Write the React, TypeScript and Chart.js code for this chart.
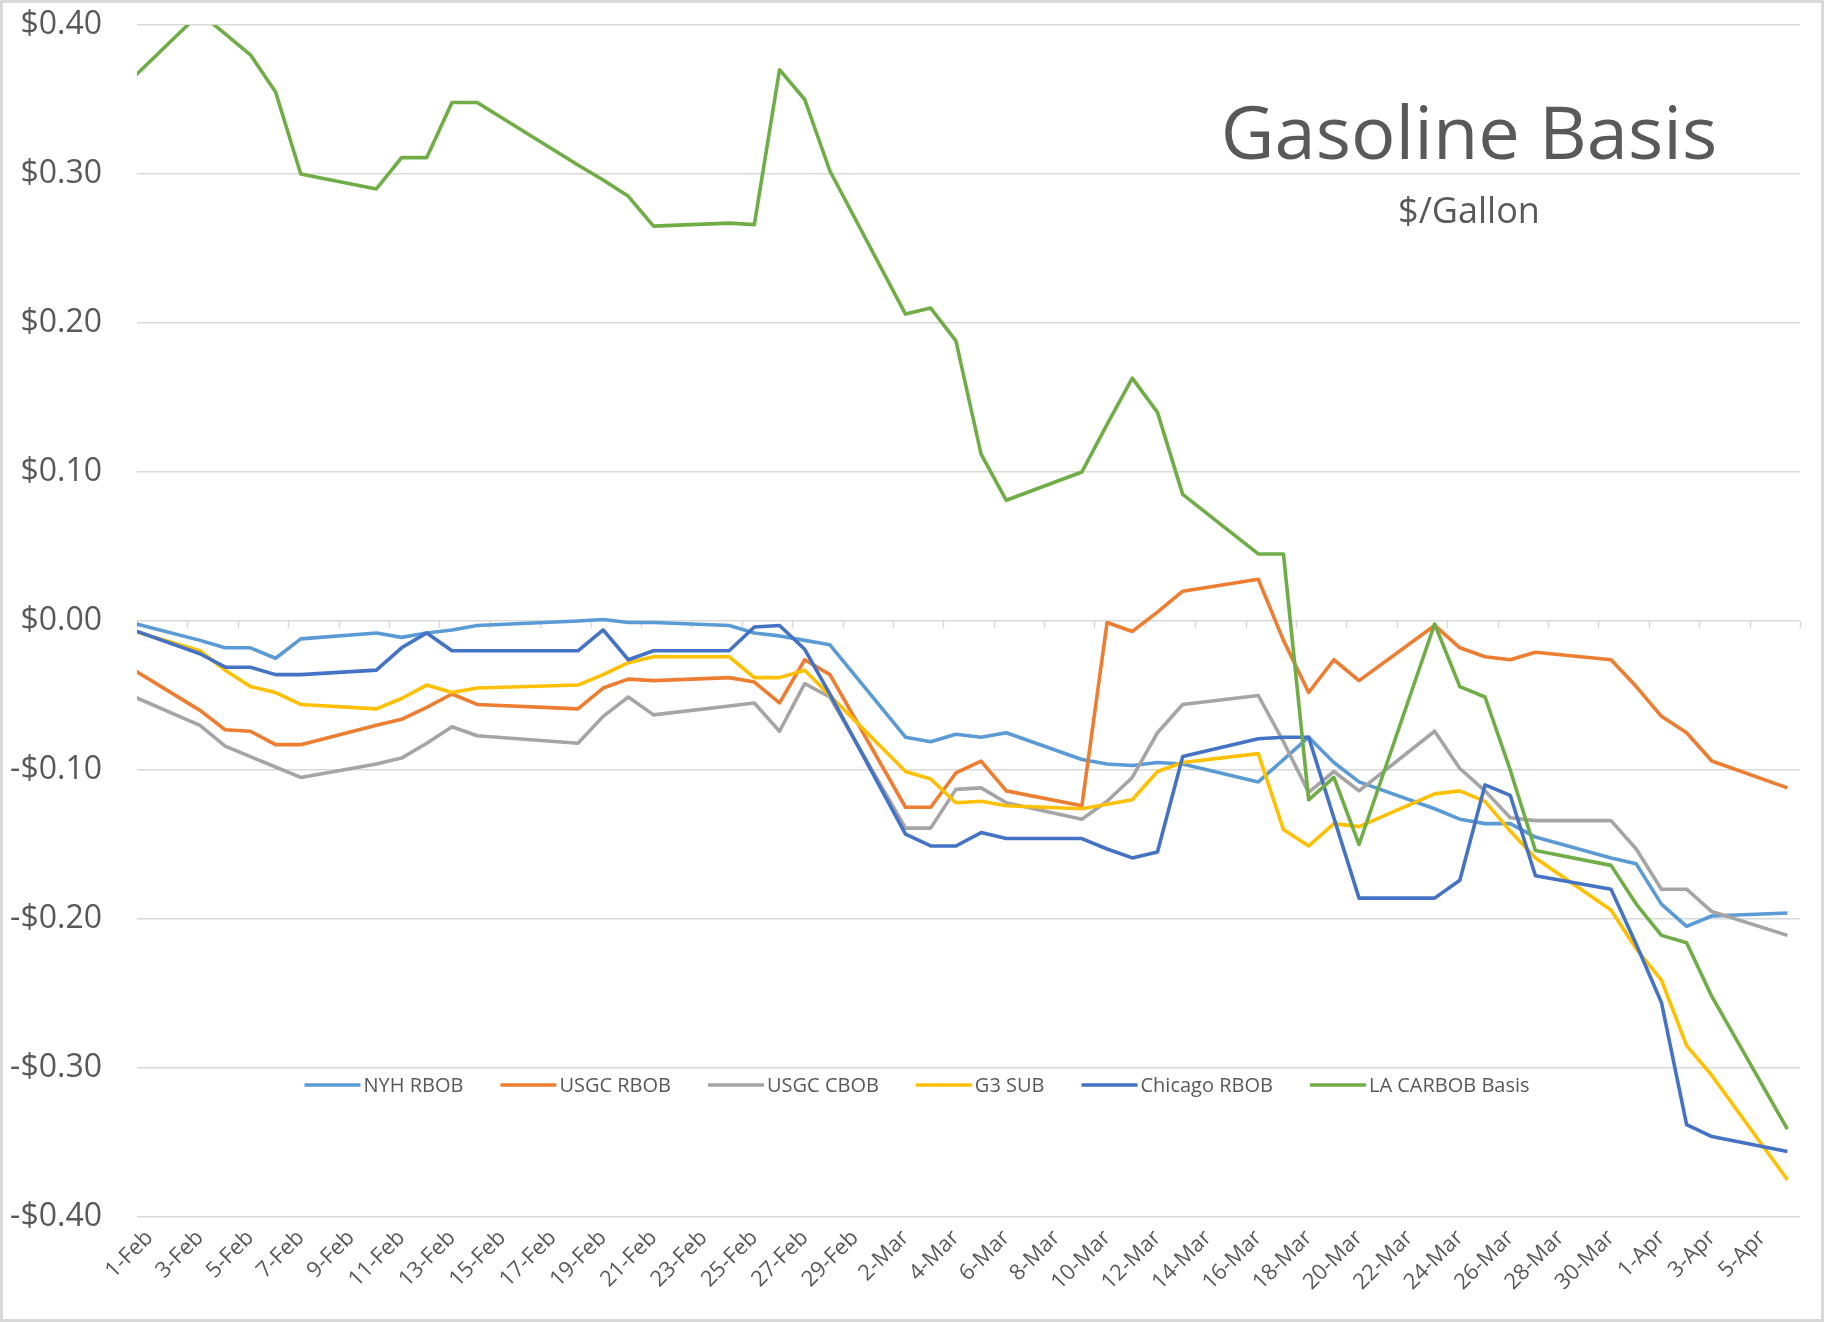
import React, { useEffect, useRef } from "react";
import { Chart, registerables } from "chart.js";

Chart.register(...registerables);

// ---- Data (2020 trading days) ----
const dates = [
  "2020-01-31",
  "2020-02-03", "2020-02-04", "2020-02-05", "2020-02-06", "2020-02-07",
  "2020-02-10", "2020-02-11", "2020-02-12", "2020-02-13", "2020-02-14",
  "2020-02-18", "2020-02-19", "2020-02-20", "2020-02-21",
  "2020-02-24", "2020-02-25", "2020-02-26", "2020-02-27", "2020-02-28",
  "2020-03-02", "2020-03-03", "2020-03-04", "2020-03-05", "2020-03-06",
  "2020-03-09", "2020-03-10", "2020-03-11", "2020-03-12", "2020-03-13",
  "2020-03-16", "2020-03-17", "2020-03-18", "2020-03-19", "2020-03-20",
  "2020-03-23", "2020-03-24", "2020-03-25", "2020-03-26", "2020-03-27",
  "2020-03-30", "2020-03-31", "2020-04-01", "2020-04-02", "2020-04-03",
  "2020-04-06",
];

const xTickLabels = [
  "1-Feb", "3-Feb", "5-Feb", "7-Feb", "9-Feb", "11-Feb", "13-Feb", "15-Feb",
  "17-Feb", "19-Feb", "21-Feb", "23-Feb", "25-Feb", "27-Feb", "29-Feb",
  "2-Mar", "4-Mar", "6-Mar", "8-Mar", "10-Mar", "12-Mar", "14-Mar", "16-Mar",
  "18-Mar", "20-Mar", "22-Mar", "24-Mar", "26-Mar", "28-Mar", "30-Mar",
  "1-Apr", "3-Apr", "5-Apr",
];

const seriesNames = ["NYH RBOB", "USGC RBOB", "USGC CBOB", "G3 SUB", "Chicago RBOB", "LA CARBOB Basis"];
const seriesColors = ["#5B9BD5", "#ED7D31", "#A5A5A5", "#FFC000", "#4472C4", "#70AD47"];

const nyhRbob = [
  0.000,
  -0.013, -0.018, -0.018, -0.025, -0.012,
  -0.008, -0.011, -0.008, -0.006, -0.003,
  0.000, 0.001, -0.001, -0.001,
  -0.003, -0.008, -0.010, -0.013, -0.016,
  -0.078, -0.081, -0.076, -0.078, -0.075,
  -0.093, -0.096, -0.097, -0.095, -0.096,
  -0.108, -0.093, -0.078, -0.095, -0.108,
  -0.126, -0.133, -0.136, -0.136, -0.145,
  -0.159, -0.163, -0.190, -0.205, -0.198,
  -0.196,
];

const usgcRbob = [
  -0.029,
  -0.060, -0.073, -0.074, -0.083, -0.083,
  -0.070, -0.066, -0.058, -0.049, -0.056,
  -0.059, -0.045, -0.039, -0.040,
  -0.038, -0.041, -0.055, -0.026, -0.036,
  -0.125, -0.125, -0.102, -0.094, -0.114,
  -0.124, -0.001, -0.007, 0.006, 0.020,
  0.028, -0.013, -0.048, -0.026, -0.040,
  -0.003, -0.018, -0.024, -0.026, -0.021,
  -0.026, -0.044, -0.064, -0.075, -0.094,
  -0.112,
];

const usgcCbob = [
  -0.048,
  -0.070, -0.084, -0.091, -0.098, -0.105,
  -0.096, -0.092, -0.082, -0.071, -0.077,
  -0.082, -0.064, -0.051, -0.063,
  -0.057, -0.055, -0.074, -0.042, -0.051,
  -0.139, -0.139, -0.113, -0.112, -0.122,
  -0.133, -0.121, -0.105, -0.075, -0.056,
  -0.050, -0.081, -0.115, -0.101, -0.114,
  -0.074, -0.099, -0.114, -0.132, -0.134,
  -0.134, -0.153, -0.180, -0.180, -0.195,
  -0.211,
];

const g3Sub = [
  -0.005,
  -0.020, -0.033, -0.044, -0.048, -0.056,
  -0.059, -0.052, -0.043, -0.048, -0.045,
  -0.043, -0.036, -0.028, -0.024,
  -0.024, -0.038, -0.038, -0.033, -0.050,
  -0.101, -0.106, -0.122, -0.121, -0.124,
  -0.126, -0.123, -0.120, -0.101, -0.095,
  -0.089, -0.140, -0.151, -0.136, -0.138,
  -0.116, -0.114, -0.121, -0.141, -0.159,
  -0.194, -0.220, -0.241, -0.285, -0.305,
  -0.375,
];

const chicagoRbob = [
  -0.004,
  -0.022, -0.031, -0.031, -0.036, -0.036,
  -0.033, -0.018, -0.008, -0.020, -0.020,
  -0.020, -0.006, -0.026, -0.020,
  -0.020, -0.004, -0.003, -0.019, -0.049,
  -0.143, -0.151, -0.151, -0.142, -0.146,
  -0.146, -0.153, -0.159, -0.155, -0.091,
  -0.079, -0.078, -0.078, -0.132, -0.186,
  -0.186, -0.174, -0.110, -0.117, -0.171,
  -0.180, -0.217, -0.256, -0.338, -0.346,
  -0.356,
];

const laCarbob = [
  0.359,
  0.408, 0.394, 0.380, 0.355, 0.300,
  0.290, 0.311, 0.311, 0.348, 0.348,
  0.306, 0.296, 0.285, 0.265,
  0.267, 0.266, 0.370, 0.350, 0.302,
  0.206, 0.210, 0.188, 0.112, 0.081,
  0.100, 0.132, 0.163, 0.140, 0.085,
  0.045, 0.045, -0.120, -0.105, -0.150,
  -0.002, -0.044, -0.051, -0.100, -0.154,
  -0.164, -0.190, -0.211, -0.216, -0.252,
  -0.341,
];

const titleText = "Gasoline Basis";
const subtitleText = "$/Gallon";

// ---- Styling ----
const W = 1824;
const H = 1322;
const FONT = "'Open Sans', 'Noto Sans', 'DejaVu Sans', sans-serif";
const TEXT = "#595959";
const GRID = "#d9d9d9";

const fmtDollar = (v: number) => {
  const r = Math.round(Number(v) * 100) / 100;
  return (r < 0 ? "-" : "") + "$" + Math.abs(r).toFixed(2);
};

export default function App() {
  const ref = useRef<HTMLCanvasElement>(null);

  useEffect(() => {
    document.body.style.margin = "0";
    const canvas = ref.current;
    if (!canvas) return;

    const base = Date.parse("2020-02-01");
    const toDay = (s: string) => Math.round((Date.parse(s) - base) / 86400000);
    const xs = dates.map(toDay);
    const all = [nyhRbob, usgcRbob, usgcCbob, g3Sub, chicagoRbob, laCarbob];

    const datasets = all.map((vals, i) => ({
      label: seriesNames[i],
      data: vals.map((v, j) => ({ x: xs[j], y: v })),
      borderColor: seriesColors[i],
      backgroundColor: seriesColors[i],
      borderWidth: 3.6,
      pointRadius: 0,
      pointHoverRadius: 0,
      tension: 0,
      fill: false,
      order: all.length - i,
      borderJoinStyle: "round" as const,
    }));

    const decor = {
      id: "decor",
      beforeDraw(chart: any) {
        const ctx = chart.ctx;
        ctx.save();
        ctx.fillStyle = "#ffffff";
        ctx.fillRect(0, 0, chart.width, chart.height);
        ctx.restore();
      },
      beforeDatasetsDraw(chart: any) {
        const ctx = chart.ctx;
        const xs = chart.scales.x;
        const ys = chart.scales.y;
        const y0 = ys.getPixelForValue(0);
        ctx.save();
        ctx.strokeStyle = GRID;
        ctx.lineWidth = 1.5;
        for (let b = -0.5; b <= 65.5 + 1e-9; b += 2) {
          const px = Math.round(xs.getPixelForValue(b)) + 0.5;
          ctx.beginPath();
          ctx.moveTo(px, y0);
          ctx.lineTo(px, y0 + 7);
          ctx.stroke();
        }
        ctx.restore();
      },
      afterDraw(chart: any) {
        const ctx = chart.ctx;
        ctx.save();
        // Title & subtitle
        ctx.fillStyle = TEXT;
        ctx.textAlign = "center";
        ctx.textBaseline = "alphabetic";
        ctx.font = `74px ${FONT}`;
        ctx.fillText(titleText, 1469, 159);
        ctx.font = `36px ${FONT}`;
        ctx.fillText(subtitleText, 1469, 223);

        // Legend
        ctx.font = `20px ${FONT}`;
        const lineLen = 56;
        const gapLine = 3;
        const gapItem = 37;
        const widths = seriesNames.map((n) => ctx.measureText(n).width);
        const total =
          widths.reduce((a, b) => a + b, 0) +
          seriesNames.length * (lineLen + gapLine) +
          (seriesNames.length - 1) * gapItem;
        let x = 917 - total / 2;
        const ly = 1085;
        ctx.textAlign = "left";
        ctx.textBaseline = "middle";
        seriesNames.forEach((n, i) => {
          ctx.strokeStyle = seriesColors[i];
          ctx.lineWidth = 3.5;
          ctx.beginPath();
          ctx.moveTo(x, ly);
          ctx.lineTo(x + lineLen, ly);
          ctx.stroke();
          ctx.fillStyle = TEXT;
          ctx.fillText(n, x + lineLen + gapLine, ly + 1);
          x += lineLen + gapLine + widths[i] + gapItem;
        });

        // Outer border
        ctx.strokeStyle = GRID;
        ctx.lineWidth = 3;
        ctx.strokeRect(1.5, 1.5, W - 3, H - 3);
        ctx.restore();
      },
    };

    const chart = new Chart(canvas, {
      type: "line",
      data: { datasets },
      options: {
        responsive: false,
        maintainAspectRatio: false,
        animation: false,
        devicePixelRatio: 1,
        events: [],
        layout: { padding: { top: 25, right: 24, left: 0, bottom: 0 } },
        plugins: {
          legend: { display: false },
          tooltip: { enabled: false },
          title: { display: false },
        },
        scales: {
          x: {
            type: "linear",
            min: -0.5,
            max: 65.5,
            afterBuildTicks: (s: any) => {
              s.ticks = xTickLabels.map((_, i) => ({ value: i * 2 }));
            },
            afterFit: (s: any) => {
              s.height = 105;
              s.paddingLeft = 0;
              s.paddingRight = 0;
            },
            grid: { display: false, drawTicks: false },
            border: { display: false },
            ticks: {
              autoSkip: false,
              minRotation: 45,
              maxRotation: 45,
              padding: 8,
              color: TEXT,
              font: { family: FONT, size: 22 },
              callback: (_v: any, i: number) => xTickLabels[i],
            },
          },
          y: {
            type: "linear",
            min: -0.4,
            max: 0.4,
            afterFit: (s: any) => {
              s.width = 137;
              s.paddingTop = 0;
              s.paddingBottom = 0;
            },
            ticks: {
              stepSize: 0.1,
              padding: 35,
              color: TEXT,
              font: { family: FONT, size: 32 },
              callback: (v: any) => fmtDollar(Number(v)),
            },
            grid: { color: GRID, lineWidth: 1.5, drawTicks: false },
            border: { display: false },
          },
        },
      },
      plugins: [decor],
    } as any);

    return () => chart.destroy();
  }, []);

  return (
    <canvas
      ref={ref}
      width={W}
      height={H}
      style={{ display: "block", width: W, height: H }}
    />
  );
}
